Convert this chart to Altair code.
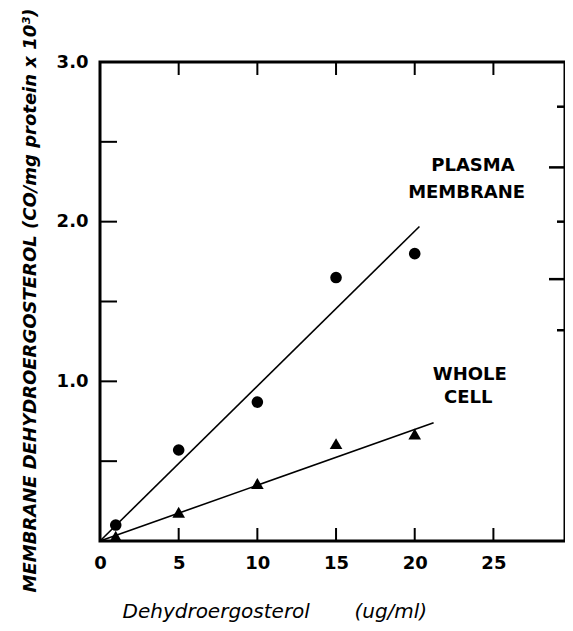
import altair as alt
import pandas as pd

# ---- data ----
pm_x = [1, 5, 10, 15, 20]
pm_y = [0.10, 0.57, 0.87, 1.65, 1.80]
wc_x = [1, 5, 10, 15, 20]
wc_y = [0.03, 0.18, 0.36, 0.61, 0.67]

pm_fit_x = [0, 20.3]
pm_fit_y = [0, 1.97]
wc_fit_x = [0, 21.2]
wc_fit_y = [0, 0.74]

x_tick_vals = [5, 10, 15, 20, 25]
x_label_vals = [0, 5, 10, 15, 20, 25]
y_tick_vals = [0.5, 1.0, 1.5, 2.0, 2.5]
y_label_vals = [1.0, 2.0, 3.0]
right_long = [1.64, 2.34]
right_short = [1.32, 2.0, 2.72]

label_text = ["PLASMA", "MEMBRANE", "WHOLE", "CELL"]
label_x = [23.7, 23.3, 23.5, 23.4]
label_y = [2.35, 2.18, 1.04, 0.895]

X_MAX = 29.55
W, H = 465, 479
FONT = "DejaVu Sans"

xs = alt.Scale(domain=[0, X_MAX], nice=False, zero=True)
ys = alt.Scale(domain=[0, 3], nice=False, zero=True)

x_axis = alt.Axis(
    values=x_label_vals, ticks=False, domain=False, grid=False,
    labelFont=FONT, labelFontSize=18, labelFontWeight="bold", labelColor="black",
    labelPadding=13, labelFlush=False,
    title="Dehydroergosterol" + "\u00a0" * 7 + "(ug/ml)",
    titleFont=FONT, titleFontSize=20, titleFontStyle="italic", titleFontWeight="normal",
    titleColor="black", titleX=22, titleY=70, titleAnchor="start",
    titleAlign="left", titleBaseline="middle",
)
y_axis = alt.Axis(
    values=y_label_vals, format=".1f", ticks=False, domain=False, grid=False,
    labelFont=FONT, labelFontSize=18, labelFontWeight="bold", labelColor="black",
    labelPadding=12, labelFlush=False,
    title="MEMBRANE DEHYDROERGOSTEROL (CO/mg protein x 10³)",
    titleFont=FONT, titleFontSize=18, titleFontStyle="italic", titleFontWeight="bold",
    titleColor="black", titleX=-70, titleY=238, titleAngle=270,
    titleAlign="center", titleBaseline="middle",
)

X = lambda: alt.X("x:Q", scale=xs, axis=x_axis)
Y = lambda: alt.Y("y:Q", scale=ys, axis=y_axis)

pm_df = pd.DataFrame({"x": pm_x, "y": pm_y})
wc_df = pd.DataFrame({"x": wc_x, "y": wc_y})
fit_df = pd.DataFrame({
    "x": pm_fit_x + wc_fit_x,
    "y": pm_fit_y + wc_fit_y,
    "s": ["pm"] * len(pm_fit_x) + ["wc"] * len(wc_fit_x),
})

pm_pts = alt.Chart(pm_df).mark_point(shape="circle", filled=True, color="black",
                                     size=135, opacity=1).encode(x=X(), y=Y())
wc_pts = alt.Chart(wc_df).mark_point(shape="triangle-up", filled=True, color="black",
                                     size=160, opacity=1).encode(x=X(), y=Y())
fits = alt.Chart(fit_df).mark_line(color="black", strokeWidth=1.6).encode(
    x=X(), y=Y(), detail="s:N")

xt = pd.DataFrame({"x": x_tick_vals})
yt = pd.DataFrame({"y": y_tick_vals})
bottom_ticks = alt.Chart(xt).mark_rule(color="black", strokeWidth=2).encode(
    x=X(), y=alt.value(H), y2=alt.value(H - 13))
top_ticks = alt.Chart(xt).mark_rule(color="black", strokeWidth=2).encode(
    x=X(), y=alt.value(0), y2=alt.value(13))
left_ticks = alt.Chart(yt).mark_rule(color="black", strokeWidth=2).encode(
    y=Y(), x=alt.value(0), x2=alt.value(17))
right_l = alt.Chart(pd.DataFrame({"y": right_long})).mark_rule(
    color="black", strokeWidth=2.5).encode(y=Y(), x=alt.value(W), x2=alt.value(W - 16))
right_s = alt.Chart(pd.DataFrame({"y": right_short})).mark_rule(
    color="black", strokeWidth=2.5).encode(y=Y(), x=alt.value(W), x2=alt.value(W - 8))

lab_df = pd.DataFrame({"x": label_x, "y": label_y, "t": label_text})
labels = alt.Chart(lab_df).mark_text(font=FONT, fontSize=18, fontWeight="bold",
                                     color="black", align="center", baseline="middle").encode(
    x=X(), y=Y(), text="t:N")

chart = alt.layer(
    fits, pm_pts, wc_pts, bottom_ticks, top_ticks, left_ticks, right_l, right_s, labels
).properties(
    width=W, height=H,
    background="white",
    autosize=alt.AutoSizeParams(type="none"),
    padding={"left": 92, "top": 54, "right": 0, "bottom": 82},
).configure_view(stroke="black", strokeWidth=3)

chart.save("out.html", embed_options={"renderer": "svg", "actions": False})
